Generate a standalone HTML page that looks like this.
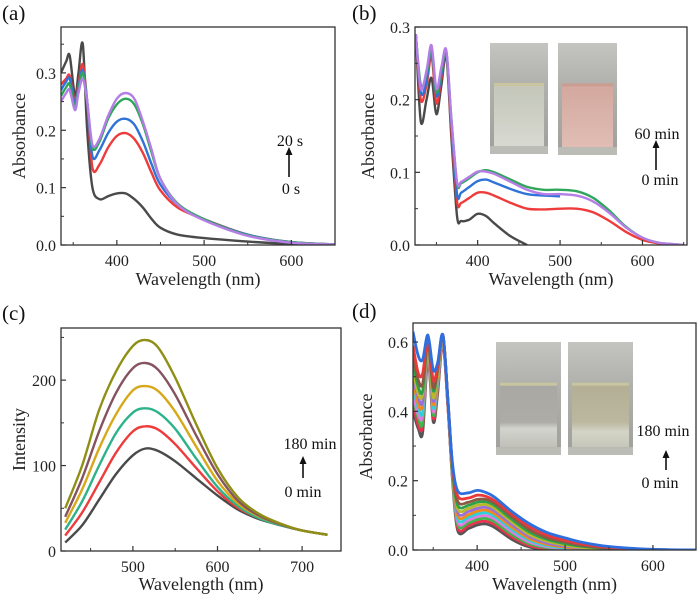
<!DOCTYPE html>
<html><head><meta charset="utf-8"><style>
html,body{margin:0;padding:0;background:#fff;}
svg, svg text{font-family:"Liberation Serif","Times New Roman",Times,"DejaVu Serif","Noto Serif CJK SC",serif;}
</style></head><body>
<svg id="fig" width="700" height="604" viewBox="0 0 700 604" xmlns="http://www.w3.org/2000/svg">
<defs>
<linearGradient id="glass" x1="0" y1="0" x2="0" y2="1"><stop offset="0" stop-color="#c4c5c1"/><stop offset="0.4" stop-color="#afb0ab"/><stop offset="1" stop-color="#9fa09b"/></linearGradient>
<linearGradient id="liqB1" x1="0" y1="0" x2="0" y2="1"><stop offset="0" stop-color="#c3c6b9"/><stop offset="1" stop-color="#d8d9d1"/></linearGradient>
<linearGradient id="liqB2" x1="0" y1="0" x2="0" y2="1"><stop offset="0" stop-color="#d3a89e"/><stop offset="1" stop-color="#e0bdb4"/></linearGradient>
<linearGradient id="liqD1" x1="0" y1="0" x2="0" y2="1"><stop offset="0" stop-color="#a9a8a3"/><stop offset="0.6" stop-color="#adaca7"/><stop offset="0.7" stop-color="#d4d4ce"/><stop offset="1" stop-color="#c0c0b9"/></linearGradient>
<linearGradient id="liqD2" x1="0" y1="0" x2="0" y2="1"><stop offset="0" stop-color="#b3af95"/><stop offset="0.6" stop-color="#bbb89f"/><stop offset="0.75" stop-color="#d4d4c7"/><stop offset="1" stop-color="#c6c6ba"/></linearGradient>
</defs>
<g id="pa"></g>
<g id="pb"></g>
<g id="pc"></g>
<g id="pd"></g>
</svg>
<script>
// ---------- Panel (a) data ----------
const aWave = [336,342,346,352,356,361,366,372,380,390,400,410,420,430,440,450,470,500,550,600,650];
const aBlack = [0.30,0.32,0.33,0.26,0.30,0.35,0.20,0.10,0.08,0.085,0.09,0.09,0.08,0.065,0.045,0.03,0.018,0.012,0.006,0.002,0];
const aRed = [0.28,0.29,0.295,0.25,0.28,0.315,0.25,0.135,0.14,0.17,0.19,0.195,0.185,0.16,0.125,0.095,0.065,0.045,0.018,0.005,0.001];
const aBlue = [0.27,0.285,0.29,0.245,0.275,0.305,0.25,0.155,0.165,0.195,0.215,0.22,0.21,0.18,0.14,0.105,0.07,0.045,0.018,0.005,0.001];
const aGreen = [0.26,0.275,0.28,0.24,0.27,0.30,0.25,0.17,0.18,0.22,0.245,0.255,0.245,0.21,0.16,0.115,0.072,0.045,0.017,0.005,0.001];
const aPurple = [0.25,0.265,0.27,0.235,0.265,0.29,0.25,0.175,0.185,0.225,0.255,0.265,0.255,0.215,0.165,0.115,0.07,0.043,0.016,0.004,0.001];
const aXTicks = [400,500,600];
const aYTicks = [0,0.1,0.2,0.3];

// ---------- Panel (b) data ----------
const bWave = [325,331,338,344,350,356,362,368,375,380,390,400,410,420,440,460,480,500,520,540,560,580,600,620,640,650];
const bBlack = [0.29,0.17,0.20,0.23,0.18,0.22,0.26,0.15,0.04,0.033,0.035,0.043,0.04,0.03,0.012,0,null,null,null,null,null,null,null,null,null,null];
const bRed = [0.29,0.20,0.22,0.26,0.195,0.23,0.265,0.16,0.06,0.058,0.065,0.072,0.072,0.068,0.058,0.05,0.049,0.05,0.05,0.045,0.033,0.018,0.007,0.002,0,0];
const bBlue = [0.29,0.21,0.225,0.27,0.205,0.235,0.265,0.17,0.07,0.072,0.08,0.088,0.09,0.086,0.077,0.07,0.068,0.067,null,null,null,null,null,null,null,null];
const bGreen = [0.29,0.22,0.235,0.27,0.21,0.24,0.265,0.175,0.085,0.085,0.092,0.10,0.103,0.10,0.09,0.08,0.076,0.076,0.074,0.065,0.047,0.025,0.01,0.003,0.001,0];
const bPurple = [0.29,0.215,0.24,0.275,0.215,0.245,0.268,0.175,0.087,0.087,0.094,0.101,0.101,0.098,0.087,0.076,0.07,0.07,0.068,0.06,0.044,0.024,0.01,0.003,0.001,0];
const bXTicks = [400,500,600];
const bYTicks = [0,0.1,0.2,0.3];

// ---------- Panel (c) data ----------
const cWave = [420,440,460,480,500,515,530,550,575,600,625,650,675,700,730];
const c0 = [10,30,60,90,112,120,117,105,85,65,48,37,30,24,19];
const c1 = [18,45,80,115,140,146,142,125,97,70,50,38,30,24,19];
const c2 = [25,58,100,138,162,167,162,143,108,75,52,38,30,24,19];
const c3 = [33,72,120,160,188,193,187,163,122,82,55,40,31,24,19];
const c4 = [40,85,140,185,214,220,212,183,135,90,58,41,31,24,19];
const c5 = [50,100,165,210,240,247,238,203,148,97,62,43,32,24,19];
const cXTicks = [500,600,700];
const cYTicks = [0,100,200];

// ---------- Panel (d) data ----------
const dWave = [327,333,338,344,350,355,361,367,372,378,390,400,410,420,440,460,480,500,520,550,600,649];
const d0 = [0.40,0.35,0.34,0.55,0.37,0.45,0.60,0.40,0.20,0.055,0.062,0.072,0.075,0.065,0.030,0.008,0.001,0,0,0,0,0];
const d1 = [0.42,0.36,0.36,0.56,0.38,0.46,0.60,0.40,0.21,0.063,0.070,0.080,0.083,0.073,0.037,0.012,0.003,0,0,0,0,0];
const d2 = [0.44,0.38,0.37,0.57,0.39,0.47,0.61,0.41,0.21,0.072,0.078,0.088,0.091,0.081,0.044,0.017,0.006,0.002,0,0,0,0];
const d3 = [0.45,0.39,0.39,0.57,0.40,0.48,0.61,0.41,0.22,0.080,0.086,0.096,0.099,0.089,0.051,0.022,0.009,0.003,0.001,0,0,0];
const d4 = [0.47,0.41,0.40,0.58,0.41,0.49,0.61,0.41,0.22,0.089,0.094,0.104,0.107,0.097,0.058,0.027,0.012,0.005,0.002,0,0,0];
const d5 = [0.49,0.42,0.42,0.58,0.42,0.50,0.61,0.41,0.22,0.098,0.102,0.112,0.115,0.104,0.065,0.032,0.016,0.008,0.003,0.001,0,0];
const d6 = [0.50,0.44,0.43,0.59,0.43,0.51,0.62,0.41,0.23,0.108,0.111,0.120,0.123,0.112,0.072,0.038,0.020,0.011,0.005,0.001,0,0];
const d7 = [0.52,0.45,0.45,0.59,0.44,0.51,0.62,0.42,0.23,0.118,0.120,0.129,0.131,0.120,0.080,0.044,0.025,0.014,0.007,0.002,0,0];
const d8 = [0.54,0.47,0.46,0.60,0.46,0.52,0.62,0.42,0.23,0.128,0.129,0.138,0.139,0.128,0.087,0.051,0.030,0.018,0.010,0.004,0.001,0];
const d9 = [0.56,0.49,0.48,0.60,0.47,0.52,0.62,0.42,0.24,0.140,0.138,0.146,0.146,0.135,0.095,0.058,0.035,0.023,0.013,0.005,0.001,0];
const d10 = [0.59,0.51,0.51,0.61,0.49,0.53,0.62,0.42,0.24,0.155,0.150,0.158,0.155,0.142,0.102,0.066,0.042,0.028,0.017,0.008,0.001,0];
const d11 = [0.63,0.56,0.55,0.62,0.52,0.54,0.62,0.42,0.25,0.170,0.165,0.172,0.166,0.152,0.110,0.075,0.050,0.035,0.022,0.010,0.002,0];
const dXTicks = [400,500,600];
const dYTicks = [0,0.2,0.4,0.6];

const NS = "http://www.w3.org/2000/svg";
const FF = "'Liberation Serif', 'Times New Roman', Times, 'DejaVu Serif', serif";
function mk(parent, tag, attrs, text){
  const e = document.createElementNS(NS, tag);
  for (const k in attrs) e.setAttribute(k, attrs[k]);
  if (tag === "text") e.setAttribute("font-family", FF);
  if (text !== undefined) e.textContent = text;
  parent.appendChild(e);
  return e;
}
function smoothPath(pts){
  if (pts.length < 2) return "";
  let d = "M" + pts[0][0].toFixed(1) + "," + pts[0][1].toFixed(1);
  for (let i = 0; i < pts.length - 1; i++){
    const p0 = pts[i-1] || pts[i], p1 = pts[i], p2 = pts[i+1], p3 = pts[i+2] || p2;
    const t = 0.16;
    const c1x = p1[0] + (p2[0]-p0[0])*t, c1y = p1[1] + (p2[1]-p0[1])*t;
    const c2x = p2[0] - (p3[0]-p1[0])*t, c2y = p2[1] - (p3[1]-p1[1])*t;
    d += " C" + c1x.toFixed(1)+","+c1y.toFixed(1)+" "+c2x.toFixed(1)+","+c2y.toFixed(1)+" "+p2[0].toFixed(1)+","+p2[1].toFixed(1);
  }
  return d;
}

function panel(g, cfg){
  const {L,R,T,B,x0,x1,y0,y1} = cfg;
  const sx = v => L + (v - x0) / (x1 - x0) * (R - L);
  const sy = v => B - (v - y0) / (y1 - y0) * (B - T);
  const clip = "clip-" + cfg.id;
  const cp = mk(g, "clipPath", {id: clip});
  mk(cp, "rect", {x: L, y: T, width: R-L, height: B-T});
  (cfg.insets || []).forEach((ins, i) => {
    const ig = mk(g, "g", {});
    
    
    mk(ig, "rect", {x: ins[0], y: ins[1], width: ins[2], height: ins[3], fill: "url(#glass)"});
    mk(ig, "rect", {x: ins[0]+4, y: ins[1]+ins[3]*0.38, width: ins[2]-8, height: ins[3]*0.55, fill: "url(#" + ins[4] + ")"});
    mk(ig, "rect", {x: ins[0]+4, y: ins[1]+ins[3]*0.36, width: ins[2]-8, height: 3, fill: ins[5]});
    mk(ig, "rect", {x: ins[0], y: ins[1]+ins[3]*0.93, width: ins[2], height: ins[3]*0.07, fill: "#bcbcb6"});
  });
  const sg = mk(g, "g", {"clip-path": "url(#" + clip + ")"});
  
  
  cfg.series.forEach((s, i) => {
    const pts = [];
    cfg.xs.forEach((x, j) => { if (s.v[j] !== null && s.v[j] !== undefined) pts.push([sx(x), sy(s.v[j])]); });
    const p = mk(sg, "path", {d: smoothPath(pts), fill: "none", stroke: s.c, "stroke-width": cfg.lw || 2.4, "stroke-linejoin": "round"});
    
    
  });
  const fr = mk(g, "rect", {x: L, y: T, width: R-L, height: B-T, fill: "none", stroke: "#333", "stroke-width": 1.3});
  
  
  cfg.xt.forEach((v, i) => {
    const x = sx(v);
    mk(g, "line", {x1: x, y1: B, x2: x, y2: B-5, stroke: "#333", "stroke-width": 1.2});
    const mx = sx(v - (cfg.xt[1]-cfg.xt[0])/2);
    if (mx > L) mk(g, "line", {x1: mx, y1: B, x2: mx, y2: B-3, stroke: "#333", "stroke-width": 1});
    const t = mk(g, "text", {x: x, y: B+21, "font-size": 16, "text-anchor": "middle", fill: "#222"}, String(v));
    
    
  });
  { const last = cfg.xt[cfg.xt.length-1]; const mx = sx(last + (cfg.xt[1]-cfg.xt[0])/2);
    if (mx < R) mk(g, "line", {x1: mx, y1: B, x2: mx, y2: B-3, stroke: "#333", "stroke-width": 1}); }
  cfg.yt.forEach((v, i) => {
    const y = sy(v);
    mk(g, "line", {x1: L, y1: y, x2: L+5, y2: y, stroke: "#333", "stroke-width": 1.2});
    const my = sy(v + (cfg.yt[1]-cfg.yt[0])/2);
    if (my > T) mk(g, "line", {x1: L, y1: my, x2: L+3, y2: my, stroke: "#333", "stroke-width": 1});
    const t = mk(g, "text", {x: L-5, y: y+6, "font-size": 16, "text-anchor": "end", fill: "#222"}, cfg.yf(v));
    
    
  });
  const xt = mk(g, "text", {x: (L+R)/2, y: cfg.xtY, "font-size": 18, "text-anchor": "middle", fill: "#222"}, "Wavelength (nm)");
  
  
  const yt = mk(g, "text", {x: 0, y: 0, "font-size": 18, "text-anchor": "middle", fill: "#222", transform: "translate(" + cfg.ytX + "," + ((T+B)/2) + ") rotate(-90)"}, cfg.ytitle);
  
  
  const lb = mk(g, "text", {x: cfg.lab[0], y: cfg.lab[1], "font-size": 21, fill: "#111"}, cfg.label);
  
  
  const an = cfg.ann;
  const ag = mk(g, "g", {});
  
  
  mk(ag, "text", {x: an.tx, y: an.topY, "font-size": 16, "text-anchor": "middle", fill: "#111"}, an.top);
  mk(ag, "text", {x: an.bx, y: an.botY, "font-size": 16, "text-anchor": "middle", fill: "#111"}, an.bot);
  mk(ag, "line", {x1: an.ax, y1: an.a1, x2: an.ax, y2: an.a0 + 6, stroke: "#111", "stroke-width": 1.6});
  mk(ag, "path", {d: "M" + (an.ax-3.5) + "," + (an.a0+8) + " L" + an.ax + "," + an.a0 + " L" + (an.ax+3.5) + "," + (an.a0+8) + "Z", fill: "#111"});
}

panel(document.getElementById("pa"), {
  id: "a", L: 61, R: 335, T: 27, B: 245, x0: 336, x1: 650, y0: 0, y1: 0.38,
  xs: aWave, xt: aXTicks, yt: aYTicks, yf: v => v.toFixed(1),
  series: [{n:"0s-black", c:"#4a4a4a", v:aBlack},{n:"red", c:"#ee3b3b", v:aRed},{n:"blue", c:"#2f72d8", v:aBlue},{n:"green", c:"#2fa65a", v:aGreen},{n:"purple", c:"#b57ee6", v:aPurple}],
  xtY: 285, ytX: 25, ytitle: "Absorbance", label: "(a)", lab: [2, 20],
  ann: {top: "20 s", tx: 290, topY: 146, bot: "0 s", bx: 291, botY: 194, ax: 289, a0: 147, a1: 177}
});
panel(document.getElementById("pb"), {
  id: "b", L: 415, R: 687, T: 27, B: 245, x0: 324, x1: 654, y0: 0, y1: 0.3,
  xs: bWave, xt: bXTicks, yt: bYTicks, yf: v => v.toFixed(1),
  series: [{n:"0min-black", c:"#4a4a4a", v:bBlack},{n:"red", c:"#ee3b3b", v:bRed},{n:"blue", c:"#2f72d8", v:bBlue},{n:"green", c:"#2fa65a", v:bGreen},{n:"purple", c:"#b57ee6", v:bPurple}],
  insets: [[490,43,58,111,"liqB1","#c9c59e"],[558,43,59,112,"liqB2","#c99d92"]],
  xtY: 285, ytX: 374, ytitle: "Absorbance", label: "(b)", lab: [352, 20],
  ann: {top: "60 min", tx: 657, topY: 139, bot: "0 min", bx: 660, botY: 185, ax: 656, a0: 140, a1: 170}
});
panel(document.getElementById("pc"), {
  id: "c", L: 61, R: 341, T: 328, B: 551, x0: 415, x1: 746, y0: 0, y1: 261,
  xs: cWave, xt: cXTicks, yt: cYTicks, yf: v => String(v),
  series: [{n:"0min-black", c:"#4a4a4a", v:c0},{n:"red", c:"#ee3b3b", v:c1},{n:"teal", c:"#2db38a", v:c2},{n:"gold", c:"#d7a81a", v:c3},{n:"mauve", c:"#85535f", v:c4},{n:"olive", c:"#8f8f16", v:c5}],
  xtY: 590, ytX: 25, ytitle: "Intensity", label: "(c)", lab: [2, 320],
  ann: {top: "180 min", tx: 310, topY: 449, bot: "0 min", bx: 303, botY: 497, ax: 303, a0: 456, a1: 478}
});
panel(document.getElementById("pd"), {
  id: "d", L: 413, R: 696, T: 323, B: 550, x0: 327, x1: 649, y0: 0, y1: 0.655,
  xs: dWave, xt: dXTicks, yt: dYTicks, yf: v => v.toFixed(1),
  lw: 2.8,
  series: [{n:"0min-gray", c:"#555555", v:d0},{n:"s1", c:"#e8344e", v:d1},{n:"s2", c:"#3fb54a", v:d2},{n:"s3", c:"#e27ae0", v:d3},{n:"s4", c:"#2fd0d8", v:d4},{n:"s5", c:"#f08a1c", v:d5},{n:"s6", c:"#9c6fd8", v:d6},{n:"s7", c:"#b8b82a", v:d7},{n:"s8", c:"#2ea04a", v:d8},{n:"s9", c:"#8a5a44", v:d9},{n:"s10", c:"#e83a3a", v:d10},{n:"180min-blue", c:"#2e6fe0", v:d11}],
  insets: [[496,342,65,113,"liqD1","#c8c5a0"],[568,342,65,113,"liqD2","#c8c5a0"]],
  xtY: 590, ytX: 372, ytitle: "Absorbance", label: "(d)", lab: [352, 318],
  ann: {top: "180 min", tx: 663, topY: 436, bot: "0 min", bx: 660, botY: 488, ax: 666, a0: 450, a1: 470}
});
</script>
</body></html>
